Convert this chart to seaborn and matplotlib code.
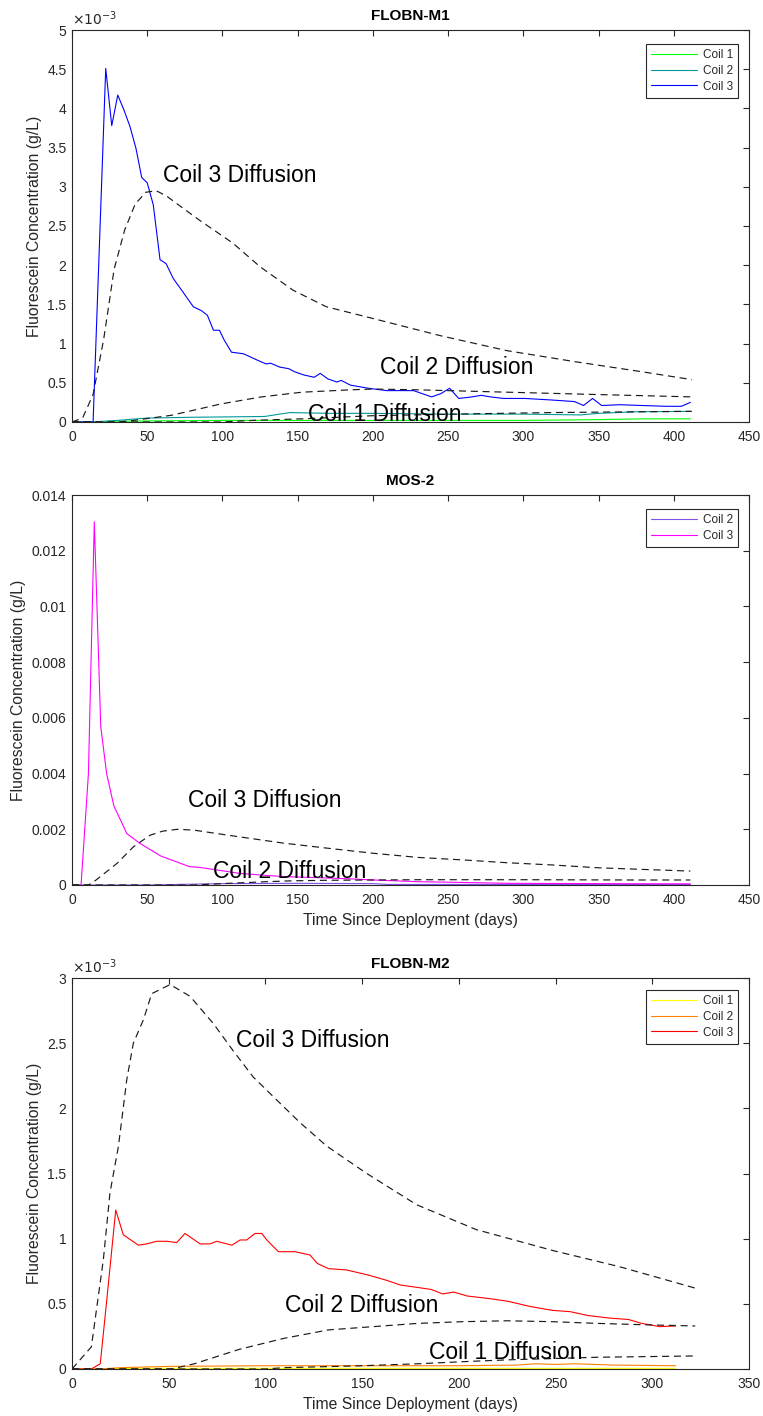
import numpy as np
import pandas as pd
import matplotlib
matplotlib.use("Agg")
import matplotlib.pyplot as plt
import seaborn as sns
from matplotlib.ticker import FuncFormatter, MultipleLocator

# ---------------- data (concentrations in units of 1e-3 g/L) ----------------
SCALE = 1e-3

# FLOBN-M1
m1_c1_day = [0, 14, 30, 100, 200, 300, 350, 380, 411]
m1_c1_val = [0, 0, 0.01, 0.02, 0.02, 0.02, 0.03, 0.04, 0.04]
m1_c2_day = [0, 14, 30, 50, 80, 128, 138, 145, 170, 200, 250, 300, 338, 350, 375, 411]
m1_c2_val = [0, 0, 0.02, 0.05, 0.06, 0.07, 0.10, 0.12, 0.11, 0.11, 0.10, 0.10, 0.09, 0.11, 0.13, 0.135]
m1_c3_day = [0, 7, 14, 22.4, 26.4, 30.4, 34.5, 38.5, 42.5, 46.3, 50, 54, 58.5, 62.5, 67.3, 74, 80.6,
             86, 90, 94, 98, 101, 106, 114, 123, 129, 132, 138, 144, 148, 154, 161, 165, 170, 176,
             179, 185, 191, 197, 209, 227, 239, 245, 251, 257, 266, 272, 278, 287, 301, 319, 334,
             340, 346, 352, 364, 379, 394, 405, 411]
m1_c3_val = [0, 0, 0, 4.51, 3.78, 4.17, 3.98, 3.77, 3.49, 3.12, 3.05, 2.77, 2.07, 2.02, 1.83, 1.65, 1.47,
             1.42, 1.36, 1.17, 1.17, 1.05, 0.89, 0.87, 0.79, 0.74, 0.75, 0.70, 0.68, 0.64, 0.60, 0.57,
             0.62, 0.55, 0.51, 0.53, 0.47, 0.45, 0.43, 0.40, 0.40, 0.32, 0.36, 0.43, 0.30, 0.32, 0.34,
             0.32, 0.30, 0.30, 0.28, 0.26, 0.21, 0.30, 0.21, 0.22, 0.21, 0.20, 0.20, 0.25]
m1_d3_day = [0, 7, 14, 21, 28, 35, 42, 49, 56, 63, 70, 85, 107, 125, 147, 169, 200, 245, 289, 334, 379, 412]
m1_d3_val = [0, 0.05, 0.35, 1.05, 1.95, 2.45, 2.78, 2.93, 2.95, 2.88, 2.78, 2.57, 2.28, 1.98, 1.68, 1.47,
             1.32, 1.10, 0.91, 0.77, 0.64, 0.54]
m1_d2_day = [0, 30, 37, 66, 99, 126, 153, 185, 200, 230, 289, 349, 412]
m1_d2_val = [0, 0, 0.01, 0.085, 0.23, 0.32, 0.38, 0.41, 0.42, 0.41, 0.38, 0.35, 0.32]
m1_d1_day = [0, 100, 120, 153, 200, 272, 319, 412]
m1_d1_val = [0, 0, 0.02, 0.04, 0.08, 0.106, 0.12, 0.136]

# MOS-2
mo_c2_day = [0, 50, 70, 100, 150, 200, 210, 300, 411]
mo_c2_val = [0, 0, 0.02, 0.05, 0.06, 0.05, 0.02, 0.02, 0.02]
mo_c3_day = [0, 6, 10.9, 14.8, 19.1, 23, 27.8, 36.5, 40.8, 45, 52, 59, 70, 78, 85, 95, 111, 125, 141,
             160, 185, 200, 230, 260, 290, 320, 349, 380, 411]
mo_c3_val = [0, 0, 4.0, 13.04, 5.68, 4.0, 2.84, 1.84, 1.67, 1.50, 1.27, 1.04, 0.82, 0.66, 0.63, 0.55,
             0.42, 0.36, 0.30, 0.27, 0.22, 0.18, 0.12, 0.09, 0.06, 0.055, 0.05, 0.045, 0.04]
mo_d3_day = [0, 11, 16, 30, 41, 52, 60, 70, 81, 111, 141, 170, 200, 230, 260, 289, 319, 349, 379, 411]
mo_d3_val = [0, 0, 0.18, 0.78, 1.38, 1.79, 1.93, 2.0, 1.97, 1.73, 1.50, 1.32, 1.14, 0.99, 0.90, 0.80,
             0.72, 0.62, 0.56, 0.50]
mo_d2_day = [0, 81, 104, 130, 146, 170, 230, 300, 373, 411]
mo_d2_val = [0, 0, 0.06, 0.12, 0.15, 0.17, 0.19, 0.19, 0.18, 0.18]

# FLOBN-M2
m2_c1_day = [0, 14, 30, 312]
m2_c1_val = [0, 0, 0.005, 0.005]
m2_c2_day = [0, 14, 25, 50, 100, 150, 200, 230, 240, 250, 260, 280, 312]
m2_c2_val = [0, 0, 0.01, 0.02, 0.025, 0.025, 0.025, 0.03, 0.04, 0.035, 0.04, 0.03, 0.025]
m2_c3_day = [0, 10, 14.6, 18.1, 22.6, 26.5, 34.3, 38.6, 43.8, 49, 54.1, 58.4, 66.2, 71.4, 74.8, 82.6,
             86.9, 90.3, 94.6, 98.1, 100.7, 106.7, 115.3, 123, 126.8, 132.6, 141.9, 153.4, 162.7,
             169.6, 176.6, 185.8, 191.6, 197.4, 204.3, 215.9, 225.2, 236.7, 248.3, 257.5, 266.8,
             278.3, 287.6, 294.5, 303.8, 312]
m2_c3_val = [0, 0, 0.04, 0.55, 1.22, 1.03, 0.95, 0.96, 0.98, 0.98, 0.97, 1.04, 0.96, 0.96, 0.98, 0.95,
             0.99, 0.99, 1.04, 1.04, 0.99, 0.90, 0.90, 0.875, 0.81, 0.77, 0.76, 0.72, 0.68, 0.645,
             0.63, 0.61, 0.576, 0.59, 0.56, 0.54, 0.52, 0.48, 0.45, 0.44, 0.41, 0.39, 0.38, 0.35,
             0.325, 0.33]
m2_d3_day = [0, 10, 16.2, 19.6, 24, 28.3, 31.7, 36.9, 41.2, 50.7, 61, 73.1, 83.4, 93.7, 107.5, 117.9,
             131.7, 152.4, 178.2, 208.9, 248.3, 283, 322.3]
m2_d3_val = [0, 0.17, 0.84, 1.35, 1.71, 2.22, 2.50, 2.68, 2.88, 2.95, 2.86, 2.65, 2.44, 2.24, 2.04, 1.89,
             1.71, 1.50, 1.26, 1.07, 0.91, 0.785, 0.62]
m2_d2_day = [0, 51.6, 63.2, 86.3, 109.5, 132.6, 155.7, 178.8, 201.9, 225, 248.1, 271.3, 294.4, 322.2]
m2_d2_val = [0, 0, 0.04, 0.15, 0.235, 0.30, 0.325, 0.35, 0.363, 0.37, 0.363, 0.35, 0.34, 0.33]
m2_d1_day = [0, 100, 109.5, 150, 178.8, 201.9, 225, 248.1, 271.3, 322.2]
m2_d1_val = [0, 0, 0.01, 0.025, 0.04, 0.056, 0.07, 0.08, 0.09, 0.10]

# ---------------- styling ----------------
sns.set_theme(style="white")
plt.rcParams["font.family"] = ["Liberation Sans", "DejaVu Sans"]
GRAY = "#262626"

fig = plt.figure(figsize=(7.63, 14.16), dpi=100)
LEFT, WIDTH = 0.0944, 0.8873
ax1 = fig.add_axes([LEFT, 0.7020, WIDTH, 0.2768])
ax2 = fig.add_axes([LEFT, 0.3750, WIDTH, 0.2754])
ax3 = fig.add_axes([LEFT, 0.0332, WIDTH, 0.2761])


def frame(d, v):
    return pd.DataFrame({"day": d, "conc": np.array(v) * SCALE})


def data_line(ax, d, v, color, label):
    sns.lineplot(data=frame(d, v), x="day", y="conc", color=color, lw=0.8, label=label,
                 sort=False, estimator=None, ax=ax)


def diff_line(ax, d, v):
    sns.lineplot(data=frame(d, v), x="day", y="conc", color="#1a1a1a", lw=0.85,
                 linestyle=(0, (6, 4)), sort=False, estimator=None, legend=False, ax=ax)


def style(ax, title, xmax, ymax, ystep, sci, xlabel, leg_top):
    ax.set_xlim(0, xmax)
    ax.set_ylim(0, ymax)
    ax.xaxis.set_major_locator(MultipleLocator(50))
    ax.yaxis.set_major_locator(MultipleLocator(ystep))
    ax.tick_params(direction="in", top=True, right=True, length=4, width=0.8,
                   color=GRAY, labelcolor=GRAY, labelsize=10)
    ax.tick_params(axis="x", pad=6)
    ax.tick_params(axis="y", pad=4)
    for s in ax.spines.values():
        s.set_visible(True)
        s.set_color(GRAY)
        s.set_linewidth(0.8)
    if sci:
        ax.yaxis.set_major_formatter(FuncFormatter(lambda v, p: f"{round(v * 1e3, 6):g}"))
        ax.text(0.0, 1.004, r"$\times10^{-3}$", transform=ax.transAxes, ha="left", va="bottom",
                fontsize=10, color=GRAY)
    else:
        ax.yaxis.set_major_formatter(FuncFormatter(lambda v, p: f"{round(v, 6):g}"))
    ax.set_title(title, fontsize=11, fontweight="bold", color="black", pad=7)
    ax.set_ylabel("Fluorescein Concentration (g/L)", fontsize=11.3, color=GRAY)
    ax.set_xlabel(xlabel, fontsize=11.3, color=GRAY)
    leg = ax.legend(loc="upper right", bbox_to_anchor=(0.984, leg_top), borderaxespad=0,
                    fontsize=8.5, handlelength=3.9, handletextpad=0.45, labelspacing=0.3,
                    borderpad=0.45, fancybox=False, framealpha=1, edgecolor=GRAY)
    leg.get_frame().set_linewidth(0.8)
    for t in leg.get_texts():
        t.set_color(GRAY)


def label(ax, x, y, s):
    ax.text(x, y * SCALE, s, fontsize=16.5, ha="left", va="center", color="black")


# Panel 1: FLOBN-M1
data_line(ax1, m1_c1_day, m1_c1_val, "#00ff00", "Coil 1")
data_line(ax1, m1_c2_day, m1_c2_val, "#009999", "Coil 2")
data_line(ax1, m1_c3_day, m1_c3_val, "#0000ff", "Coil 3")
diff_line(ax1, m1_d3_day, m1_d3_val)
diff_line(ax1, m1_d2_day, m1_d2_val)
diff_line(ax1, m1_d1_day, m1_d1_val)
label(ax1, 60.5, 3.14, "Coil 3 Diffusion")
label(ax1, 204.5, 0.69, "Coil 2 Diffusion")
label(ax1, 157, 0.09, "Coil 1 Diffusion")
style(ax1, "FLOBN-M1", 450, 5e-3, 0.5e-3, True, "", 0.964)

# Panel 2: MOS-2
data_line(ax2, mo_c2_day, mo_c2_val, "#8050e8", "Coil 2")
data_line(ax2, mo_c3_day, mo_c3_val, "#ff00ff", "Coil 3")
diff_line(ax2, mo_d3_day, mo_d3_val)
diff_line(ax2, mo_d2_day, mo_d2_val)
label(ax2, 77, 3.05, "Coil 3 Diffusion")
label(ax2, 93.5, 0.50, "Coil 2 Diffusion")
style(ax2, "MOS-2", 450, 0.014, 0.002, False, "Time Since Deployment (days)", 0.964)

# Panel 3: FLOBN-M2
data_line(ax3, m2_c1_day, m2_c1_val, "#ffff00", "Coil 1")
data_line(ax3, m2_c2_day, m2_c2_val, "#ff8000", "Coil 2")
data_line(ax3, m2_c3_day, m2_c3_val, "#ff0000", "Coil 3")
diff_line(ax3, m2_d3_day, m2_d3_val)
diff_line(ax3, m2_d2_day, m2_d2_val)
diff_line(ax3, m2_d1_day, m2_d1_val)
label(ax3, 85, 2.52, "Coil 3 Diffusion")
label(ax3, 110, 0.49, "Coil 2 Diffusion")
label(ax3, 184.5, 0.13, "Coil 1 Diffusion")
style(ax3, "FLOBN-M2", 350, 3e-3, 0.5e-3, True, "Time Since Deployment (days)", 0.969)

fig.savefig("out.png", dpi=100)
